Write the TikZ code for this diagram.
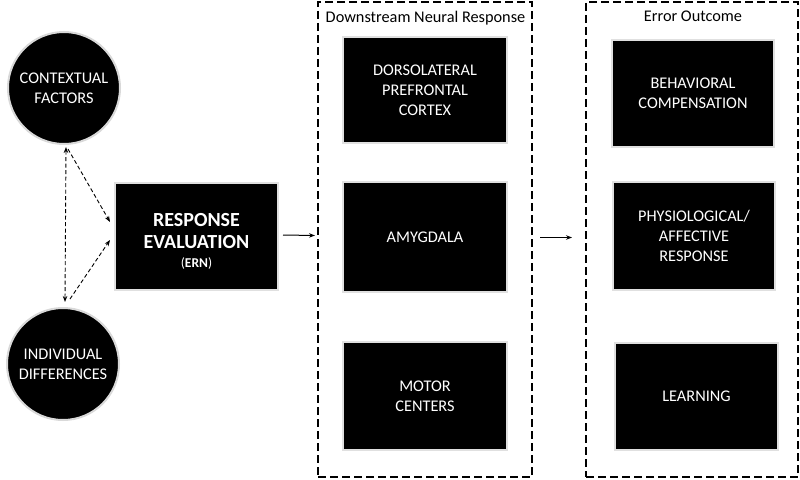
\documentclass[tikz,border=0pt]{standalone}
\usepackage{fontspec}
\setmainfont{Carlito}
\usetikzlibrary{arrows.meta,calc}
\begin{document}
\begin{tikzpicture}[x=1pt,y=-1pt,
  blk/.style={rectangle,fill=black,draw=black!12,line width=1.2pt,inner sep=0pt,outer sep=0pt,
    text=white,align=center,font=\fontsize{16.3}{20}\selectfont},
  circ/.style={circle,fill=black,draw=black!15,line width=2pt,inner sep=0pt,minimum size=112pt,
    text=white,align=center,font=\fontsize{16.3}{20}\selectfont},
  frame/.style={rectangle,draw=black,line width=2pt,dash pattern=on 8pt off 4pt,inner sep=0pt,outer sep=0pt,fill=none},
  ttl/.style={font=\fontsize{16.3}{20}\selectfont,text=black,inner sep=0pt},
  arr/.style={line width=1pt,-{Stealth[length=6pt,width=4.5pt]}},
  darr/.style={line width=0.9pt,dash pattern=on 4pt off 2.5pt,-{Stealth[length=6pt,width=4.5pt]}},
  ddarr/.style={line width=0.9pt,dash pattern=on 4pt off 2.5pt,{Stealth[length=6pt,width=4.5pt]}-{Stealth[length=6pt,width=4.5pt]}}
]
\useasboundingbox (0,0) rectangle (800,479);
\fill[white] (0,0) rectangle (800,479);

% containers
\node[frame,minimum width=214pt,minimum height=475pt] (dsbox) at (425,239.5) {};
\node[frame,minimum width=212pt,minimum height=475pt] (eobox) at (692,239.5) {};
\node[ttl] (dstitle) at (425.5,18) {Downstream Neural Response};
\node[ttl] (eotitle) at (693,16) {Error Outcome};

% circles
\node[circ] (ctx) at (64,88) {CONTEXTUAL\\FACTORS};
\node[circ] (ind) at (63,364) {INDIVIDUAL\\DIFFERENCES};

% central box
\node[blk,minimum width=163pt,minimum height=107pt,
  label={[text=white,align=center,inner sep=0pt,yshift=-5pt,font=\fontsize{20}{22}\selectfont\bfseries]center:{RESPONSE\\EVALUATION\\[-3pt]{\fontsize{13.5}{15}\selectfont\mdseries(\textbf{ERN})}}}]
  (resp) at (196.5,236.5) {};

% column 1
\node[blk,minimum width=164pt,minimum height=106pt] (dlpfc) at (425,90) {DORSOLATERAL\\PREFRONTAL\\CORTEX};
\node[blk,minimum width=164pt,minimum height=110pt] (amyg) at (425,237) {AMYGDALA};
\node[blk,minimum width=164pt,minimum height=108pt] (motor) at (425,396) {MOTOR\\CENTERS};

% column 2
\node[blk,minimum width=162pt,minimum height=107pt] (behav) at (693,93.5) {BEHAVIORAL\\COMPENSATION};
\node[blk,minimum width=162pt,minimum height=108pt] (phys) at (694,236) {PHYSIOLOGICAL/\\AFFECTIVE\\RESPONSE};
\node[blk,minimum width=163pt,minimum height=107pt] (learn) at (696.5,396.5) {LEARNING};

% connectors
\draw[ddarr] ($(ctx.south)+(2,2)$) -- ($(ind.north)+(2,-5)$);
\draw[darr] ($(ctx.south)+(4,4)$) -- ($(resp.west)+(-5,-14.5)$);
\draw[darr] ($(ind.north)+(7,-8)$) -- ($(resp.west)+(-5,3.5)$);
\draw[arr] ($(resp.east)+(5,-1.5)$) -- ($(dsbox.west)+(-3,-4)$);
\draw[arr] ($(dsbox.east)+(8,-2)$) -- ($(eobox.west)+(-14,-2)$);
\end{tikzpicture}
\end{document}
